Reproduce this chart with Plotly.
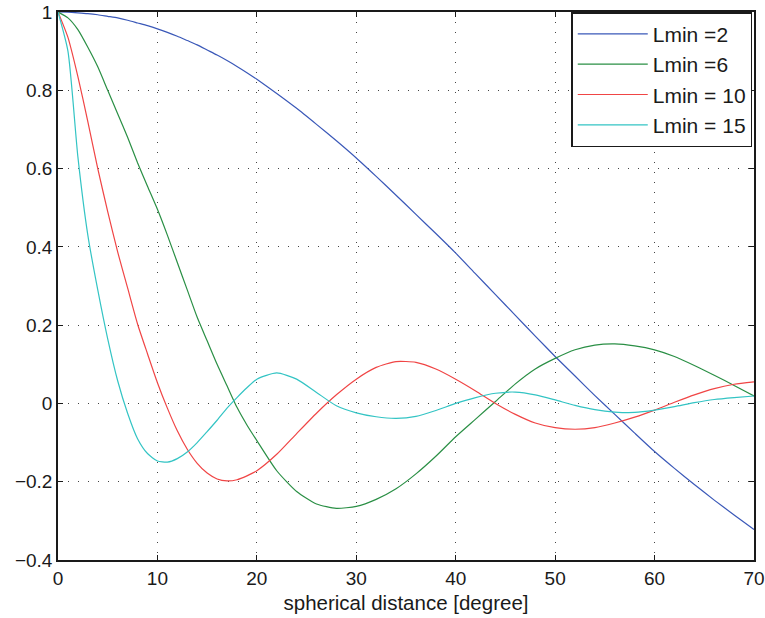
import plotly.graph_objects as go

x_deg = [0, 1, 2, 3, 4, 5, 6, 7, 8, 9, 10, 11, 12, 13, 14, 15, 16, 17, 18, 19, 20,
         22, 24, 26, 28, 30, 32, 34, 36, 38, 40, 42, 44, 46, 48, 50, 52, 54, 56, 58,
         60, 62, 64, 66, 68, 70]

lmin2 = [1.0, 0.9996, 0.998, 0.996, 0.993, 0.989, 0.985, 0.979, 0.972, 0.965, 0.957,
         0.948, 0.938, 0.927, 0.916, 0.903, 0.89, 0.876, 0.861, 0.845, 0.828,
         0.792, 0.754, 0.713, 0.671, 0.627, 0.58, 0.532, 0.483, 0.434, 0.384,
         0.331, 0.278, 0.225, 0.172, 0.12, 0.07, 0.02, -0.028, -0.076, -0.123,
         -0.166, -0.207, -0.247, -0.285, -0.322]

lmin6 = [1.0, 0.985, 0.955, 0.91, 0.86, 0.80, 0.74, 0.68, 0.615, 0.555, 0.496,
         0.43, 0.36, 0.29, 0.22, 0.16, 0.10, 0.045, -0.01, -0.055, -0.095,
         -0.172, -0.225, -0.257, -0.268, -0.263, -0.245, -0.218, -0.18, -0.135, -0.085,
         -0.04, 0.005, 0.05, 0.088, 0.115, 0.137, 0.149, 0.152, 0.147, 0.137,
         0.12, 0.097, 0.072, 0.046, 0.019]

lmin10 = [1.0, 0.935, 0.835, 0.72, 0.6, 0.49, 0.387, 0.295, 0.203, 0.127, 0.053,
          -0.012, -0.07, -0.117, -0.153, -0.178, -0.193, -0.198, -0.195, -0.185, -0.172,
          -0.13, -0.077, -0.025, 0.022, 0.062, 0.092, 0.107, 0.105, 0.088, 0.062,
          0.032, 0.0, -0.028, -0.05, -0.062, -0.066, -0.062, -0.05, -0.035, -0.017,
          0.003, 0.022, 0.038, 0.049, 0.055]

lmin15 = [1.0, 0.9, 0.63, 0.43, 0.29, 0.165, 0.058, -0.025, -0.09, -0.128, -0.147,
          -0.15, -0.141, -0.124, -0.1, -0.072, -0.043, -0.012, 0.015, 0.04, 0.062,
          0.078, 0.062, 0.028, -0.006, -0.024, -0.034, -0.038, -0.033, -0.018, 0.0,
          0.015, 0.026, 0.029, 0.022, 0.009, -0.005, -0.016, -0.022, -0.023, -0.017,
          -0.008, 0.002, 0.01, 0.015, 0.019]

series_names = ["Lmin =2", "Lmin =6", "Lmin = 10", "Lmin = 15"]
series_values = [lmin2, lmin6, lmin10, lmin15]
colors = ["#3a58b8", "#2a8f45", "#f04545", "#33c4c4"]

x_ticks = [0, 10, 20, 30, 40, 50, 60, 70]
y_ticks = [-0.4, -0.2, 0, 0.2, 0.4, 0.6, 0.8, 1]
y_tick_labels = ["\u22120.4", "\u22120.2", "0", "0.2", "0.4", "0.6", "0.8", "1"]

FONT = "Liberation Sans, Arial, Helvetica, sans-serif"

fig = go.Figure()
for i, (name, vals, col) in enumerate(zip(series_names, series_values, colors)):
    fig.add_trace(go.Scatter(x=x_deg, y=vals, mode="lines", name=name,
                             line=dict(color=col, width=1.2, shape="spline", smoothing=0.6),
                             legendgroup=f"g{i}"))

axis_common = dict(
    showline=True, linecolor="#1a1a1a", linewidth=1.5, mirror="ticks",
    ticks="inside", ticklen=5, tickcolor="#1a1a1a", tickwidth=1,
    showgrid=True, gridcolor="#444444", griddash="1px,9px", gridwidth=1,
    zeroline=False, automargin=False,
    tickfont=dict(family=FONT, size=19, color="#1a1a1a"),
)

fig.update_xaxes(range=[0, 70], tickvals=x_ticks, **axis_common,
                 title=dict(text="spherical distance [degree]",
                            font=dict(family=FONT, size=20.5, color="#1a1a1a"),
                            standoff=8))
fig.update_yaxes(range=[-0.4, 1], tickvals=y_ticks, ticktext=y_tick_labels, **axis_common)

fig.update_layout(
    width=765, height=618,
    margin=dict(l=58, r=11, t=12, b=58),
    plot_bgcolor="white", paper_bgcolor="white",
    font=dict(family=FONT, size=19, color="#1a1a1a"),
    legend=dict(x=0.9975, y=0.9995, xanchor="right", yanchor="top",
                bgcolor="white", bordercolor="#1a1a1a", borderwidth=1.5,
                font=dict(family=FONT, size=21, color="#1a1a1a"),
                itemwidth=70, tracegroupgap=0),
    showlegend=True,
)

fig.write_html("out.html")
